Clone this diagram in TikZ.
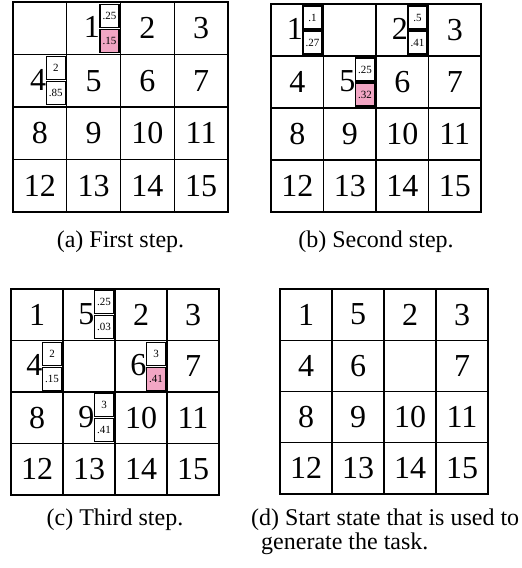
\documentclass[tikz,border=0pt]{standalone}
\usepackage{fontspec}
\setmainfont{Liberation Serif}
\usepackage{xcolor}
\usepackage{tikz}
\usetikzlibrary{positioning,calc}
\definecolor{probpink}{RGB}{242,166,196}

\newcommand{\puzzle}[6]{%
  \foreach \lab [count=\i from 0] in {#6} {
    \pgfmathtruncatemacro{\prow}{div(\i,4)}
    \pgfmathtruncatemacro{\pcol}{mod(\i,4)}
    \node[cell,minimum width=#4pt,minimum height=#5pt] (#1-\prow-\pcol)
      at ({#2+(\pcol+0.5)*#4},{#3+(\prow+0.5)*#5}) {\lab};
  }
  \draw[frame] (#1-0-0.north west) rectangle (#1-3-3.south east);
}
\newcommand{\probs}[5]{%
  \node[pbox,anchor=south east] (#1-up) at ($(#1.east)+(-1.5,-1)$) {#3};
  \node[pbox,anchor=north east,fill=#5] (#1-dn) at ($(#1.east)+(-1.5,1)$) {#4};
  \node[num,anchor=east] (#1-n) at (#1-up.south west) {#2};
}

\begin{document}
\begin{tikzpicture}[x=1pt,y=-1pt,
  cell/.style={rectangle,draw,line width=1.2pt,inner sep=0pt,outer sep=0pt,
               font=\fontsize{32}{32}\selectfont},
  frame/.style={line width=2pt},
  pbox/.style={rectangle,draw,fill=white,line width=1.1pt,inner sep=0pt,outer sep=0pt,
               minimum width=19pt,minimum height=23pt,font=\fontsize{11}{11}\selectfont},
  num/.style={inner sep=0pt,font=\fontsize{32}{32}\selectfont},
  caption/.style={inner sep=0pt,font=\fontsize{24}{25}\selectfont}]
\useasboundingbox (0,0) rectangle (522,568);

\puzzle{a}{13}{2}{53.75}{52.5}{{},{},2,3,{},5,6,7,8,9,10,11,12,13,14,15}
\probs{a-0-1}{1}{.25}{.15}{probpink}
\probs{a-1-0}{4}{2}{.85}{white}

\puzzle{b}{271}{4}{52.5}{52}{{},{},{},3,4,{},6,7,8,9,10,11,12,13,14,15}
\probs{b-0-0}{1}{.1}{.27}{white}
\probs{b-0-2}{2}{.5}{.41}{white}
\probs{b-1-1}{5}{.25}{.32}{probpink}

\puzzle{c}{11}{289}{52}{51.5}{1,{},2,3,{},{},{},7,8,{},10,11,12,13,14,15}
\probs{c-0-1}{5}{.25}{.03}{white}
\probs{c-1-0}{4}{2}{.15}{white}
\probs{c-1-2}{6}{3}{.41}{probpink}
\probs{c-2-1}{9}{3}{.41}{white}

\puzzle{d}{280}{289}{52}{51.25}{1,5,2,3,4,6,{},7,8,9,10,11,12,13,14,15}

\node[caption,anchor=base] (cap-a) at ($(a-3-1.south east)+(0,35)$) {(a) First step.};
\node[caption,anchor=base] (cap-b) at ($(b-3-1.south east)+(0,35)$) {(b) Second step.};
\node[caption,anchor=base] (cap-c) at ($(c-3-1.south east)+(0,30)$) {(c) Third step.};
\node[caption,anchor=base west] (cap-d) at (251,525) {(d) Start state that is used to};
\node[caption,anchor=base west] (cap-d2) at ($(cap-d.base west)+(10,24)$) {generate the task.};
\end{tikzpicture}
\end{document}
